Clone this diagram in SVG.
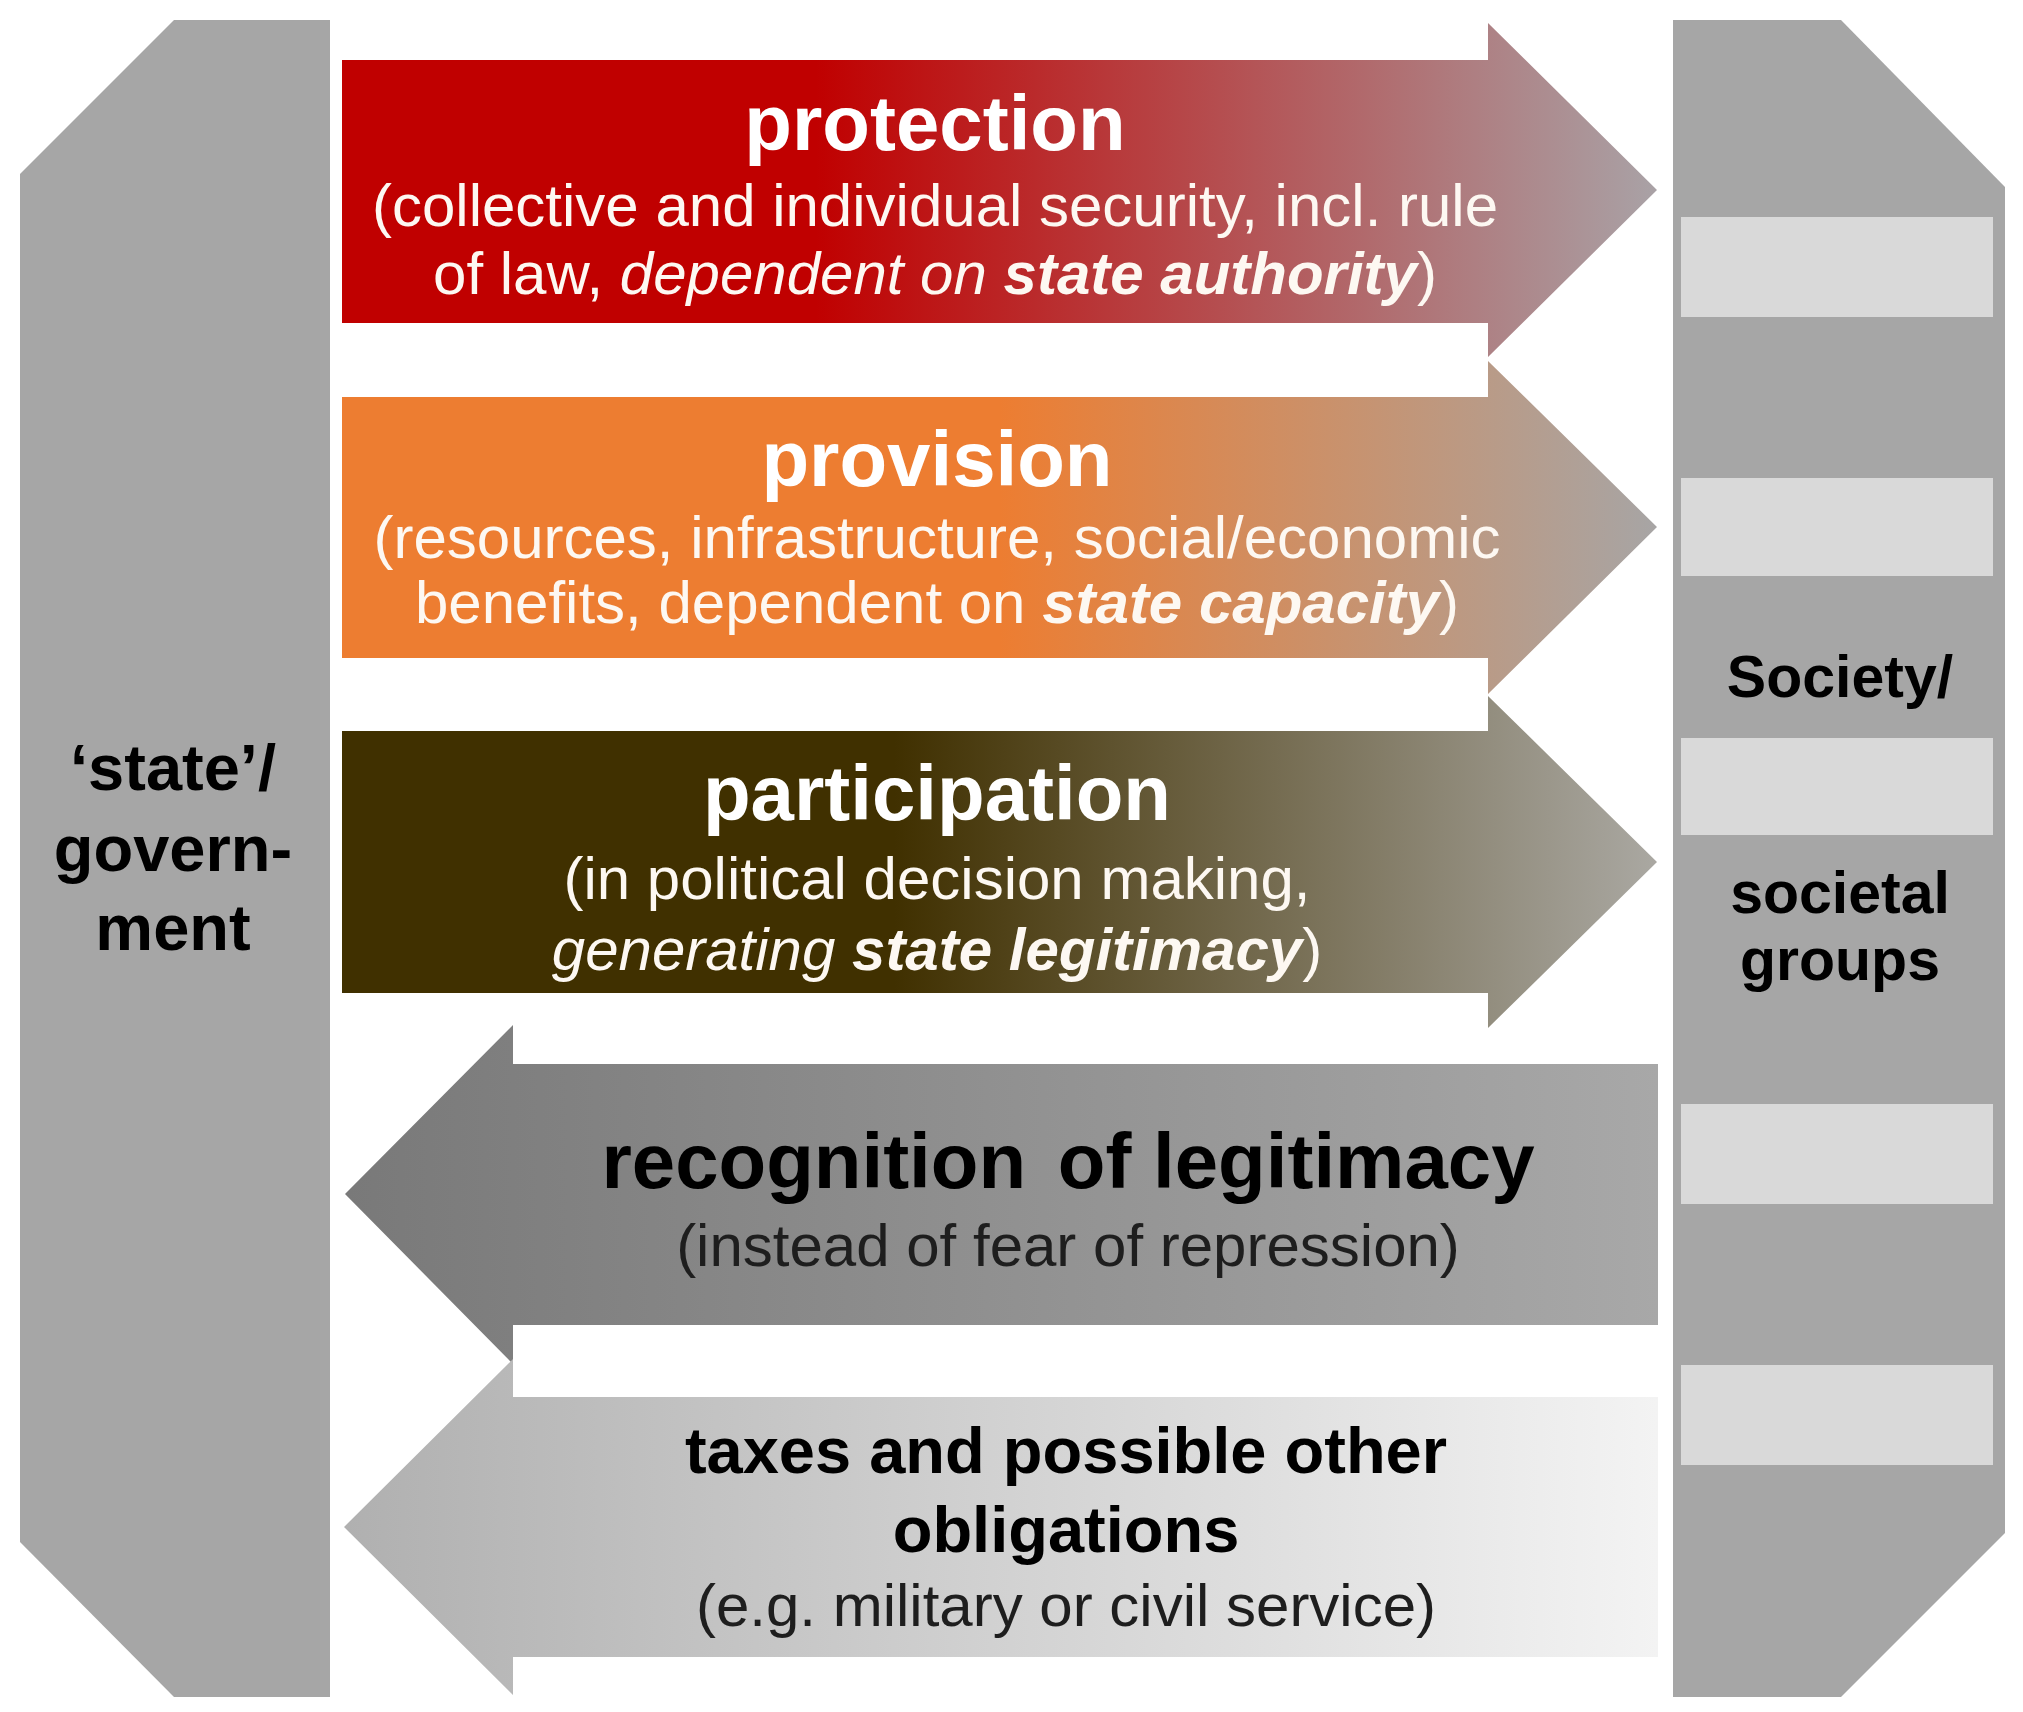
<svg xmlns="http://www.w3.org/2000/svg" width="2023" height="1712" viewBox="0 0 2023 1712">
<style>
text{font-family:"Liberation Sans",Arial,sans-serif;text-anchor:middle}
.ttl{font-size:78px;font-weight:bold}
.sub{font-size:60px}
.w{fill:#ffffff}
.wsub{fill:#fdf8f2}
.dk{fill:#000000}
.dsub{fill:#1e1e1e}
.it{font-style:italic}
.bi{font-style:italic;font-weight:bold}
.lbl{font-weight:bold;fill:#000000}
.col{fill:#a6a6a6}
.bar{fill:#d9d9d9}
</style>
<defs>
<linearGradient id="gRed" gradientUnits="userSpaceOnUse" x1="342" y1="0" x2="1657" y2="0">
<stop offset="0" stop-color="#c00000"/>
<stop offset="0.36" stop-color="#c00000"/>
<stop offset="1" stop-color="#a9a2a6"/>
</linearGradient>
<linearGradient id="gOrange" gradientUnits="userSpaceOnUse" x1="342" y1="0" x2="1657" y2="0">
<stop offset="0" stop-color="#ed7d31"/>
<stop offset="0.5" stop-color="#ed7d31"/>
<stop offset="1" stop-color="#a7a5a5"/>
</linearGradient>
<linearGradient id="gBrown" gradientUnits="userSpaceOnUse" x1="342" y1="0" x2="1657" y2="0">
<stop offset="0" stop-color="#403000"/>
<stop offset="0.42" stop-color="#403000"/>
<stop offset="1" stop-color="#aaa8a2"/>
</linearGradient>
<linearGradient id="gRecog" gradientUnits="userSpaceOnUse" x1="345" y1="0" x2="1658" y2="0">
<stop offset="0" stop-color="#797979"/>
<stop offset="1" stop-color="#a8a8a8"/>
</linearGradient>
<linearGradient id="gTax" gradientUnits="userSpaceOnUse" x1="344" y1="0" x2="1658" y2="0">
<stop offset="0" stop-color="#b0b0b0"/>
<stop offset="1" stop-color="#f3f3f3"/>
</linearGradient>
</defs>
<rect width="2023" height="1712" fill="#ffffff"/>

<g id="state-government">
<polygon class="col" points="174,20 330,20 330,1697 174,1697 20,1542 20,174"/>
<text class="lbl" font-size="65" x="173"><tspan x="173" y="790">‘state’/</tspan><tspan x="173" y="871">govern-</tspan><tspan x="173" y="950">ment</tspan></text>
</g>

<g id="society">
<polygon class="col" points="1673,20 1841,20 2005,187 2005,1533 1841,1697 1673,1697"/>
<rect class="bar" x="1681" y="217" width="312" height="100"/>
<rect class="bar" x="1681" y="478" width="312" height="98"/>
<rect class="bar" x="1681" y="738" width="312" height="97"/>
<rect class="bar" x="1681" y="1104" width="312" height="100"/>
<rect class="bar" x="1681" y="1365" width="312" height="100"/>
<text class="lbl" font-size="59" x="1840"><tspan x="1840" y="697">Society/</tspan><tspan x="1840" y="913">societal</tspan><tspan x="1840" y="980">groups</tspan></text>
</g>

<g id="connectors">
<g id="protection">
<polygon fill="url(#gRed)" points="342,60 1488,60 1488,23 1657,190 1488,357 1488,323 342,323"/>
<text class="ttl w" x="935" y="150">protection</text>
<text class="sub wsub" x="935" y="226">(collective and individual security, incl. rule</text>
<text class="sub wsub" x="935" y="294">of law, <tspan class="it">dependent on </tspan><tspan class="bi">state authority</tspan>)</text>
</g>
<g id="provision">
<polygon fill="url(#gOrange)" points="342,397 1488,397 1488,361 1657,527 1488,694 1488,658 342,658"/>
<text class="ttl w" x="937" y="486">provision</text>
<text class="sub wsub" x="937" y="558">(resources, infrastructure, social/economic</text>
<text class="sub wsub" x="937" y="623">benefits, dependent on <tspan class="bi">state capacity</tspan>)</text>
</g>
<g id="participation">
<polygon fill="url(#gBrown)" points="342,731 1488,731 1488,696 1657,862 1488,1028 1488,993 342,993"/>
<text class="ttl w" x="937" y="820">participation</text>
<text class="sub wsub" x="937" y="899">(in political decision making,</text>
<text class="sub wsub" x="937" y="970"><tspan class="it">generating </tspan><tspan class="bi">state legitimacy</tspan>)</text>
</g>
<g id="recognition">
<polygon fill="url(#gRecog)" points="1658,1064 513,1064 513,1025 345,1194 513,1364 513,1325 1658,1325"/>
<text class="ttl dk" x="1068" y="1188">recognition <tspan dx="10">of legitimacy</tspan></text>
<text class="sub dsub" x="1068" y="1266">(instead of fear of repression)</text>
</g>
<g id="taxes">
<polygon fill="url(#gTax)" points="1658,1397 513,1397 513,1359 344,1527 513,1695 513,1657 1658,1657"/>
<text class="dk" font-size="65" font-weight="bold" x="1066" y="1473">taxes and possible other</text>
<text class="dk" font-size="65" font-weight="bold" x="1066" y="1552">obligations</text>
<text class="sub dsub" x="1066" y="1626">(e.g. military or civil service)</text>
</g>
</g>
</svg>
